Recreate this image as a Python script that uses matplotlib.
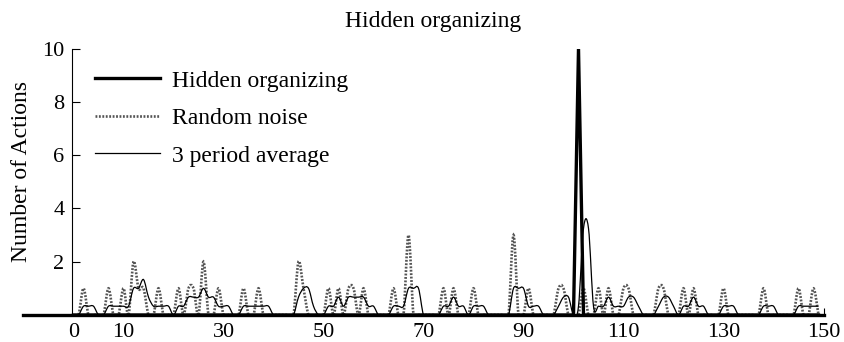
import numpy as np
import matplotlib
matplotlib.use("Agg")
import matplotlib.pyplot as plt
from matplotlib.path import Path
from matplotlib.patches import PathPatch
from matplotlib.lines import Line2D

plt.rcParams['font.family'] = ['Liberation Serif', 'DejaVu Serif']

# ---- data: one value per period -------------------------------------------
periods = list(range(150))

hidden = [
    0, 0, 0, 0, 0, 0, 0, 0, 0, 0,   0, 0, 0, 0, 0, 0, 0, 0, 0, 0,
    0, 0, 0, 0, 0, 0, 0, 0, 0, 0,   0, 0, 0, 0, 0, 0, 0, 0, 0, 0,
    0, 0, 0, 0, 0, 0, 0, 0, 0, 0,   0, 0, 0, 0, 0, 0, 0, 0, 0, 0,
    0, 0, 0, 0, 0, 0, 0, 0, 0, 0,   0, 0, 0, 0, 0, 0, 0, 0, 0, 0,
    0, 0, 0, 0, 0, 0, 0, 0, 0, 0,   0, 0, 0, 0, 0, 0, 0, 0, 0, 0,
    0, 10, 0, 0, 0, 0, 0, 0, 0, 0,  0, 0, 0, 0, 0, 0, 0, 0, 0, 0,
    0, 0, 0, 0, 0, 0, 0, 0, 0, 0,   0, 0, 0, 0, 0, 0, 0, 0, 0, 0,
    0, 0, 0, 0, 0, 0, 0, 0, 0, 0,
]

noise = [
    0, 0, 1, 0, 0, 0, 0, 1, 0, 0,   1, 0, 2, 1, 1, 0, 0, 1, 0, 0,
    0, 1, 0, 1, 1, 0, 2, 0, 0, 1,   0, 0, 0, 0, 1, 0, 0, 1, 0, 0,
    0, 0, 0, 0, 0, 2, 1, 0, 0, 0,   0, 1, 0, 1, 0, 1, 1, 0, 1, 0,
    0, 0, 0, 0, 1, 0, 0, 3, 0, 0,   0, 0, 0, 0, 1, 0, 1, 0, 0, 0,
    1, 0, 0, 0, 0, 0, 0, 0, 3, 0,   0, 1, 0, 0, 0, 0, 0, 1, 1, 0,
    0, 0, 1, 0, 0, 1, 0, 1, 0, 0,   1, 1, 0, 0, 0, 0, 0, 1, 1, 0,
    0, 0, 1, 0, 1, 0, 0, 0, 0, 0,   1, 0, 0, 0, 0, 0, 0, 0, 1, 0,
    0, 0, 0, 0, 0, 1, 0, 0, 1, 0,
]

avg3 = [
    0, 0, 0.33, 0.33, 0.33, 0, 0, 0.33, 0.33, 0.33,
    0.33, 0.33, 1, 1, 1.33, 0.67, 0.33, 0.33, 0.33, 0.33,
    0, 0.33, 0.33, 0.67, 0.67, 0.67, 1, 0.67, 0.67, 0.33,
    0.33, 0.33, 0, 0, 0.33, 0.33, 0.33, 0.33, 0.33, 0.33,
    0, 0, 0, 0, 0, 0.67, 1, 1, 0.33, 0,
    0, 0.33, 0.33, 0.67, 0.33, 0.67, 0.67, 0.67, 0.67, 0.33,
    0.33, 0, 0, 0, 0.33, 0.33, 0.33, 1, 1, 1,
    0, 0, 0, 0, 0.33, 0.33, 0.67, 0.33, 0.33, 0,
    0.33, 0.33, 0.33, 0, 0, 0, 0, 0, 1, 1,
    1, 0.33, 0.33, 0.33, 0, 0, 0, 0.33, 0.67, 0.67,
    0, 0.33, 3.25, 3.25, 0.33, 0.33, 0.33, 0.67, 0.33, 0.33,
    0.33, 0.67, 0.67, 0.33, 0, 0, 0, 0.33, 0.67, 0.67,
    0.33, 0, 0.33, 0.33, 0.67, 0.33, 0.33, 0, 0, 0,
    0.33, 0.33, 0.33, 0, 0, 0, 0, 0, 0.33, 0.33,
    0.33, 0, 0, 0, 0, 0.33, 0.33, 0.33, 0.33, 0.33,
]

x_ticks = [0, 10, 30, 50, 70, 90, 110, 130, 150]
y_ticks = [2, 4, 6, 8, 10]

series_names = ["Hidden organizing", "Random noise", "3 period average"]


def smoothed(xs, ys):
    """Cubic Bezier path through the points (smoothed line style)."""
    pts = np.column_stack([xs, ys]).astype(float)
    n = len(pts)
    verts = [pts[0]]
    codes = [Path.MOVETO]
    for i in range(n - 1):
        p0 = pts[i - 1] if i > 0 else pts[i]
        p1 = pts[i]
        p2 = pts[i + 1]
        p3 = pts[i + 2] if i + 2 < n else pts[i + 1]
        verts += [p1 + (p2 - p0) / 6.0, p2 - (p3 - p1) / 6.0, p2]
        codes += [Path.CURVE4] * 3
    return Path(verts, codes)


fig = plt.figure(figsize=(8.44, 3.42), dpi=100)
ax = fig.add_axes([23.5 / 844, 1 - 315 / 342, 800 / 844, (315 - 48.5) / 342])

noise_style = dict(color="0.33", lw=1.9, linestyle=(0, (0.7, 0.6)))
avg_style = dict(color="black", lw=0.9)
hidden_style = dict(color="black", lw=2.4)

ax.add_patch(PathPatch(smoothed(periods, noise), fill=False, zorder=2,
                       edgecolor=noise_style["color"], lw=noise_style["lw"],
                       linestyle=noise_style["linestyle"]))
ax.add_patch(PathPatch(smoothed(periods, avg3), fill=False, zorder=3,
                       edgecolor=avg_style["color"], lw=avg_style["lw"]))
ax.plot(periods, hidden, zorder=4, solid_joinstyle="miter", **hidden_style)

ax.set_xlim(-10, 150)
ax.set_ylim(0, 10)

for side in ("top", "right"):
    ax.spines[side].set_visible(False)
ax.spines["left"].set_position(("data", -0.4))
ax.spines["left"].set_linewidth(0.8)
ax.spines["bottom"].set_linewidth(2.4)

ax.set_xticks(x_ticks)
ax.set_yticks(y_ticks)
ax.tick_params(axis="x", direction="in", length=5, width=0.8, pad=5.5,
               labelsize=16)
ax.tick_params(axis="y", direction="in", length=6, width=0.8, pad=5,
               labelsize=16)
for t in ax.xaxis.get_major_ticks()[:-1]:
    t.tick1line.set_visible(False)

fig.text(433 / 844, 1 - 21 / 342, "Hidden organizing", ha="center",
         va="center", fontsize=17)
fig.text(22 / 844, 1 - 172 / 342, "Number of Actions", rotation=90,
         ha="center", va="center", fontsize=17)

handles = [
    Line2D([], [], **hidden_style),
    Line2D([], [], **noise_style),
    Line2D([], [], **avg_style),
]
ax.legend(handles, series_names, loc="upper left",
          bbox_to_anchor=(95 / 844, 1 - 70 / 342),
          bbox_transform=fig.transFigure, frameon=False, fontsize=17,
          borderpad=0, borderaxespad=0, handlelength=2.75,
          handletextpad=0.5, labelspacing=0.68)

fig.savefig("out.png", dpi=100)
